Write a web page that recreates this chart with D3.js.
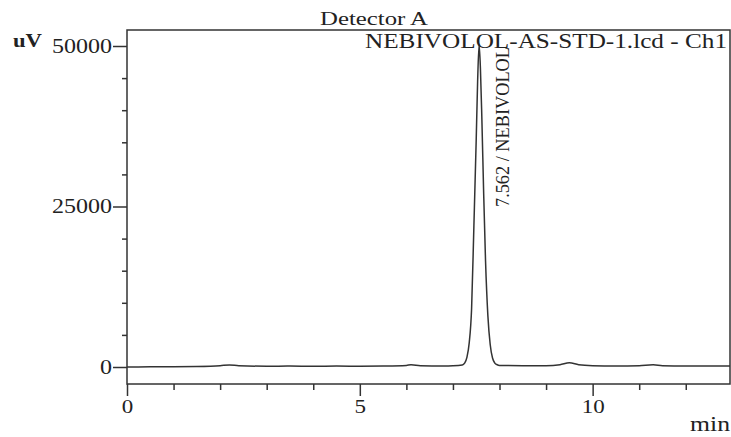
<!DOCTYPE html>
<html>
<head>
<meta charset="utf-8">
<script src="https://cdn.jsdelivr.net/npm/d3@7"></script>
<style>
  body { margin: 0; background: #fff; }
  text { font-family: 'Liberation Serif', 'Times New Roman', serif; fill: #222; }
</style>
</head>
<body>
<div id="chart-1"></div>
<script>
// chromatogram trace: retention time (min), signal (uV)
let times = [0, 0.5, 1, 1.5, 2, 2.2, 2.4, 3, 3.5, 4, 4.5, 5, 5.5, 6, 6.1, 6.3, 6.8, 7.0,
  7.2, 7.25, 7.3, 7.35, 7.4, 7.45, 7.5, 7.53, 7.562, 7.59, 7.62, 7.66, 7.7, 7.75, 7.8, 7.85, 7.9, 7.95,
  8.0, 8.5, 9, 9.3, 9.5, 9.7, 10, 10.5, 11, 11.3, 11.5, 12, 12.5, 12.95]
let signal = [0, 20, 50, 80, 200, 320, 200, 120, 150, 100, 150, 120, 150, 250, 350, 200, 150, 180,
  300, 600, 1500, 3800, 9000, 22000, 35500, 44500, 50200, 46500, 39000, 27000, 16500, 8000, 3500, 1400, 600, 350,
  250, 200, 200, 350, 650, 350, 200, 150, 200, 350, 200, 150, 150, 150]

let yMajor = [0, 25000, 50000]
let yMinor = [5000, 10000, 15000, 20000, 30000, 35000, 40000, 45000]
let xMajor = [0, 5, 10]
let xMinor = [1, 2, 3, 4, 6, 7, 8, 9, 11, 12]

let peakLabel = '7.562 / NEBIVOLOL'
let peakTime = 7.562

let width = 731
let height = 437
let plot = { left: 127, right: 730, top: 30, bottom: 384 }
let ink = '#333'

let svg = d3
  .select('#chart-1')
  .append('svg')
  .attr('width', width)
  .attr('height', height)

let xScale = d3
  .scaleLinear()
  .domain([0, 12.95])
  .range([plot.left, plot.right])

// zero sits above the frame bottom, as in the instrument printout
let yScale = d3
  .scaleLinear()
  .domain([0, 50000])
  .range([367, 46])

let data = times.map((t, i) => ({ t: t, v: signal[i] }))

// frame
svg
  .append('rect')
  .attr('x', plot.left)
  .attr('y', plot.top)
  .attr('width', plot.right - plot.left)
  .attr('height', plot.bottom - plot.top)
  .attr('fill', 'none')
  .attr('stroke', ink)
  .attr('stroke-width', 1.5)

// y axis, major and minor
let yAxis = svg
  .append('g')
  .attr('transform', `translate(${plot.left},0)`)
  .call(
    d3
      .axisLeft(yScale)
      .tickValues(yMajor)
      .tickSize(14)
      .tickPadding(1)
      .tickFormat(d3.format('d'))
  )
yAxis.select('.domain').remove()

let yAxisMinor = svg
  .append('g')
  .attr('transform', `translate(${plot.left},0)`)
  .call(d3.axisLeft(yScale).tickValues(yMinor).tickSize(5).tickFormat(''))
yAxisMinor.select('.domain').remove()

// x axis, major and minor
let xAxis = svg
  .append('g')
  .attr('transform', `translate(0,${plot.bottom})`)
  .call(d3.axisBottom(xScale).tickValues(xMajor).tickSize(12).tickPadding(4))
xAxis.select('.domain').remove()

let xAxisMinor = svg
  .append('g')
  .attr('transform', `translate(0,${plot.bottom})`)
  .call(d3.axisBottom(xScale).tickValues(xMinor).tickSize(6).tickFormat(''))
xAxisMinor.select('.domain').remove()

svg.selectAll('.tick line').attr('stroke', ink).attr('stroke-width', 1.5)

yAxis
  .selectAll('.tick text')
  .attr('font-family', "'Liberation Serif', serif")
  .attr('font-size', 20)
  .attr('fill', '#222')
  .attr('textLength', d => String(d).length * 12)
  .attr('lengthAdjust', 'spacingAndGlyphs')

xAxis
  .selectAll('.tick text')
  .attr('font-family', "'Liberation Serif', serif")
  .attr('font-size', 18)
  .attr('fill', '#222')
  .attr('textLength', d => String(d).length * 11.5)
  .attr('lengthAdjust', 'spacingAndGlyphs')

// trace
let line = d3
  .line()
  .x(d => xScale(d.t))
  .y(d => yScale(d.v))
  .curve(d3.curveMonotoneX)

svg
  .append('path')
  .datum(data)
  .attr('d', line)
  .attr('fill', 'none')
  .attr('stroke', ink)
  .attr('stroke-width', 1.5)

// labels
svg
  .append('text')
  .attr('x', 320)
  .attr('y', 25)
  .attr('font-size', 18)
  .attr('textLength', 108)
  .attr('lengthAdjust', 'spacingAndGlyphs')
  .text('Detector A')

svg
  .append('text')
  .attr('x', 727)
  .attr('y', 48)
  .attr('text-anchor', 'end')
  .attr('font-size', 22)
  .attr('textLength', 362)
  .attr('lengthAdjust', 'spacingAndGlyphs')
  .text('NEBIVOLOL-AS-STD-1.lcd - Ch1')

svg
  .append('text')
  .attr('x', 13)
  .attr('y', 47)
  .attr('font-size', 18)
  .attr('font-weight', 'bold')
  .attr('textLength', 29)
  .attr('lengthAdjust', 'spacingAndGlyphs')
  .text('uV')

svg
  .append('text')
  .attr('x', 690)
  .attr('y', 431)
  .attr('font-size', 20)
  .attr('textLength', 40)
  .attr('lengthAdjust', 'spacingAndGlyphs')
  .text('min')

svg
  .append('text')
  .attr('transform', `translate(${xScale(peakTime) + 30},207) rotate(-90)`)
  .attr('font-size', 18)
  .attr('textLength', 160)
  .attr('lengthAdjust', 'spacingAndGlyphs')
  .text(peakLabel)
</script>
</body>
</html>
